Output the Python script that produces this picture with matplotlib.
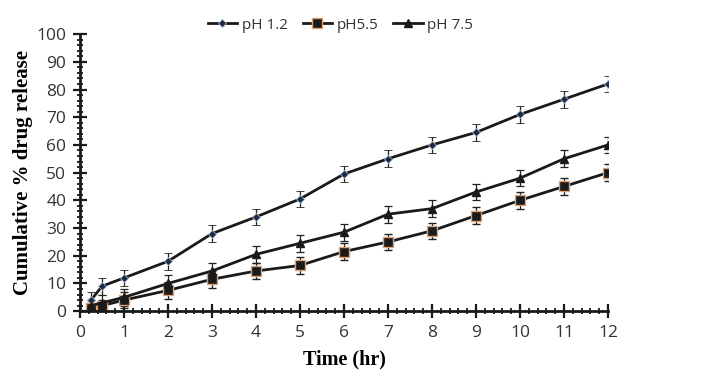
import numpy as np
import matplotlib
matplotlib.use("Agg")
import matplotlib.pyplot as plt
from matplotlib.ticker import MultipleLocator
from matplotlib.lines import Line2D

# ---- data ----
time_hr = [0.25, 0.5, 1, 2, 3, 4, 5, 6, 7, 8, 9, 10, 11, 12]
ph12 = [4, 9, 12, 18, 28, 34, 40.5, 49.5, 55, 60, 64.5, 71, 76.5, 82]
ph55 = [1, 2, 4, 7.5, 11.5, 14.5, 16.5, 21.5, 25, 29, 34.5, 40, 45, 50]
ph75 = [2, 3, 5, 10, 14.5, 20.5, 24.5, 28.5, 35, 37, 43, 48, 55, 60]
err12 = [3, 3, 3, 3, 3, 3, 3, 3, 3, 3, 3, 3, 3, 3]
err55 = [2, 2, 3, 3, 3, 3, 3, 3, 3, 3, 3, 3, 3, 3]
err75 = [2, 3, 3, 3, 3, 3, 3, 3, 3, 3, 3, 3, 3, 3]

fig = plt.figure(figsize=(7.02, 3.79), dpi=100)
ax = fig.add_axes([0.114, 0.179, 0.752, 0.731])

line_col = '#1a1a1a'
styles = [
    dict(marker='D', markersize=4.5, markerfacecolor='#1c2a44',
         markeredgecolor='#9fb3cc', markeredgewidth=0.6),
    dict(marker='s', markersize=7, markerfacecolor='#1a1a1a',
         markeredgecolor='#e0a070', markeredgewidth=1.0),
    dict(marker='^', markersize=6, markerfacecolor='#1a1a1a',
         markeredgecolor='#1a1a1a'),
]
labels = ['pH 1.2', 'pH5.5', 'pH 7.5']
series = [ph12, ph55, ph75]
errs = [err12, err55, err75]

handles = []
for y, e, st, lab in zip(series, errs, styles, labels):
    ax.errorbar(time_hr, y, yerr=e, color=line_col, linewidth=2, capsize=3,
                ecolor='#222222', elinewidth=0.9, capthick=0.9, **st)
    handles.append(Line2D([], [], color=line_col, linewidth=2, label=lab, **st))

ax.set_xlim(0, 12)
ax.set_ylim(0, 100)
ax.xaxis.set_major_locator(MultipleLocator(1))
ax.xaxis.set_minor_locator(MultipleLocator(0.2))
ax.yaxis.set_major_locator(MultipleLocator(10))
ax.yaxis.set_minor_locator(MultipleLocator(2))

for s in ['top', 'right']:
    ax.spines[s].set_visible(False)
for s in ['left', 'bottom']:
    ax.spines[s].set_linewidth(2)
    ax.spines[s].set_color('#1a1a1a')

ax.tick_params(which='major', direction='inout', length=10, width=1.6,
               colors='#1a1a1a', labelsize=12.5, pad=5)
ax.tick_params(which='minor', direction='inout', length=5, width=1.3,
               colors='#1a1a1a')
for lab in ax.get_xticklabels() + ax.get_yticklabels():
    lab.set_fontfamily('Open Sans')
    lab.set_color('#333333')

ax.set_xlabel('Time (hr)', fontfamily='Liberation Serif', fontweight='bold',
              fontsize=14.5, labelpad=6)
ax.set_ylabel('Cumulative % drug release', fontfamily='Liberation Serif',
              fontweight='bold', fontsize=15, labelpad=2)

leg = fig.legend(handles=handles, loc='upper center',
                 bbox_to_anchor=(0.485, 0.99), ncol=3, frameon=False,
                 handlelength=1.9, columnspacing=1.0, handletextpad=0.3,
                 prop={'family': 'Open Sans', 'size': 11})
for t in leg.get_texts():
    t.set_color('#333333')

fig.savefig('out.png', dpi=100)
